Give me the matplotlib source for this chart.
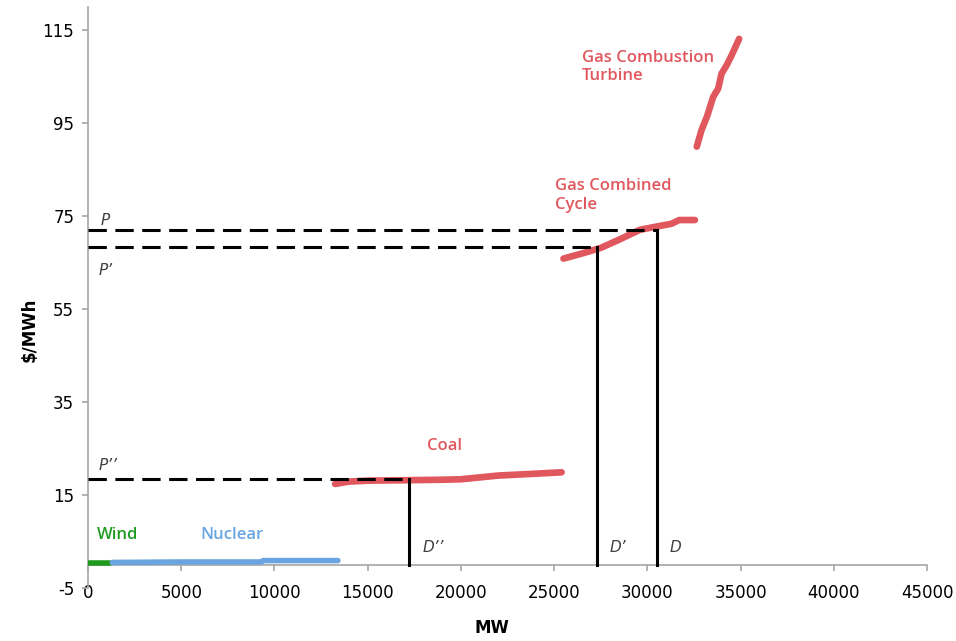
import matplotlib.pyplot as plt

# supply curve segments (MW, $/MWh)
wind_x = [0, 1200]
wind_y = [0.3, 0.3]

nuclear_x = [1300, 5000, 9300, 9400, 13400]
nuclear_y = [0.5, 0.6, 0.6, 0.9, 0.9]

coal_x = [13250, 14000, 15000, 17000, 19000, 20000, 21000, 22000, 23000, 24000, 25400]
coal_y = [17.4, 17.9, 18.1, 18.2, 18.3, 18.4, 18.8, 19.2, 19.4, 19.6, 19.9]

ccgt_x = [25500, 26500, 27500, 28500, 29600, 30500, 31300, 31700, 32550]
ccgt_y = [65.9, 67.0, 68.2, 70.0, 72.1, 72.8, 73.4, 74.2, 74.2]

ct_x = [32650, 32900, 33200, 33530, 33800, 33977, 34250, 34512, 34922]
ct_y = [90.0, 93.5, 96.5, 100.7, 102.5, 105.7, 107.5, 109.6, 113.2]

# price / demand pairs
prices = [72.0, 68.3, 18.4]
demands = [30490, 27310, 17210]
price_labels = ["P", "P\u2019", "P\u2019\u2019"]
demand_labels = ["D", "D\u2019", "D\u2019\u2019"]

x_ticks = list(range(0, 45001, 5000))
y_ticks = [-5, 15, 35, 55, 75, 95, 115]

RED = "#E0585E"
BLUE = "#6AA5E0"
GREEN = "#1E9A1E"
GREY = "#A6A6A6"

plt.rcParams["font.family"] = ["DejaVu Sans"]

fig = plt.figure(figsize=(9.56, 6.41), dpi=100)
ax = fig.add_axes([0.0921, 0.0827, 0.8776, 0.906])

# dashed price lines and solid demand lines
for p, d in zip(prices, demands):
    ax.plot([0, d], [p, p], color="black", lw=2.2, dashes=(6, 2.8), zorder=3)
    ax.plot([d, d], [0, p], color="black", lw=2.2, zorder=3)

ax.plot(wind_x, wind_y, color=GREEN, lw=4, solid_capstyle="round", zorder=4)
ax.plot(nuclear_x, nuclear_y, color=BLUE, lw=4, solid_capstyle="round", zorder=4)
ax.plot(coal_x, coal_y, color=RED, lw=4.8, solid_capstyle="round", zorder=2)
ax.plot(ccgt_x, ccgt_y, color=RED, lw=4.8, solid_capstyle="round", zorder=2)
ax.plot(ct_x, ct_y, color=RED, lw=4.8, solid_capstyle="round", zorder=2)

ax.set_xlim(0, 45000)
ax.set_ylim(-5, 120)
ax.set_xticks(x_ticks)
ax.set_yticks(y_ticks)
ax.set_xticklabels([str(v) for v in x_ticks])
ax.set_yticklabels([str(v) for v in y_ticks])

for side in ["top", "right"]:
    ax.spines[side].set_visible(False)
ax.spines["left"].set_color(GREY)
ax.spines["bottom"].set_color(GREY)
ax.spines["left"].set_linewidth(1.2)
ax.spines["bottom"].set_linewidth(1.2)
ax.spines["bottom"].set_position(("data", 0))
ax.tick_params(axis="x", direction="out", length=4, color=GREY, width=1.2,
               pad=9.5, labelsize=12, labelcolor="black")
ax.tick_params(axis="y", direction="out", length=4, color=GREY, width=1.2,
               pad=6, labelsize=12, labelcolor="black")

# annotation text
label_font = dict(family=["Open Sans", "DejaVu Sans"], fontweight="semibold", fontsize=12)
ax.text(500, 5.6, "Wind", color=GREEN, **label_font)
ax.text(6000, 5.6, "Nuclear", color=BLUE, **label_font)
ax.text(18200, 24.6, "Coal", color=RED, **label_font)
ax.text(25050, 76.6, "Gas Combined\nCycle", color=RED, linespacing=1.2, **label_font)
ax.text(26500, 104.3, "Gas Combustion\nTurbine", color=RED, linespacing=1.2, **label_font)

italic = dict(fontstyle="italic", color="#404040", fontsize=11)
ax.text(650, 73.2, price_labels[0], **italic)
ax.text(550, 62.3, price_labels[1], **italic)
ax.text(550, 20.5, price_labels[2], **italic)
ax.text(17950, 2.8, demand_labels[2], **italic)
ax.text(27950, 2.8, demand_labels[1], **italic)
ax.text(31200, 2.8, demand_labels[0], **italic)

fig.text(0.031, 0.485, "\\$/MWh", rotation=90, ha="center", va="center",
         fontsize=12, fontweight="bold")
fig.text(0.515, 0.02, "MW", ha="center", va="center", fontsize=12, fontweight="bold")

fig.savefig("out.png", dpi=100)
